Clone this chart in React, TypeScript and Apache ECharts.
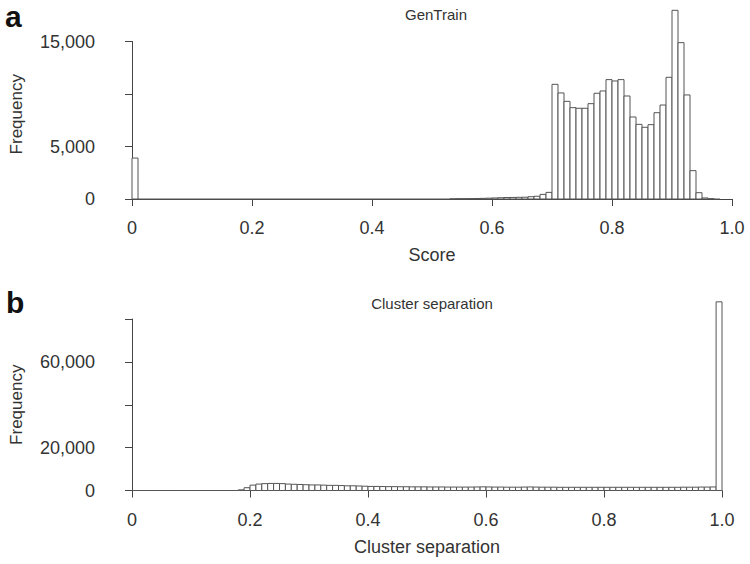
import React, { useEffect, useRef } from "react";
import * as echarts from "echarts";

// Bin width of both histograms (score units)
const binWidth = 0.01;

// Panel a: GenTrain score histogram, bins 0.00-0.01 ... 0.97-0.98
const genTrainCounts: number[] = [
  3900, 0, 0, 0, 0, 0, 0, 0, 0, 0,
  0, 0, 0, 0, 0, 0, 0, 0, 0, 0,
  0, 0, 0, 0, 0, 0, 0, 0, 0, 0,
  0, 0, 0, 0, 0, 0, 0, 0, 0, 0,
  0, 0, 0, 0, 0, 0, 0, 0, 0, 0,
  0, 0, 0, 20, 30, 30, 40, 50, 60, 80,
  100, 120, 140, 150, 160, 170, 220, 260, 440, 630,
  10920, 10100, 9300, 8700, 8640, 8640, 9080, 10070, 10290, 11370,
  11240, 11370, 9810, 7810, 7110, 6830, 7080, 8220, 8950, 11590,
  17970, 14890, 9910, 2700, 600, 100, 30, 0,
];

// Panel b: cluster separation histogram, bins 0.00-0.01 ... 0.99-1.00
const clusterSepCounts: number[] = [
  0, 0, 0, 0, 0, 0, 0, 0, 0, 0,
  0, 0, 0, 0, 0, 0, 0, 0, 300, 1300,
  2500, 3000, 3200, 3300, 3300, 3200, 3000, 2900, 2800, 2700,
  2600, 2600, 2500, 2400, 2400, 2300, 2200, 2200, 2100, 2000,
  1900, 1900, 1850, 1800, 1800, 1750, 1750, 1700, 1700, 1700,
  1650, 1650, 1650, 1600, 1600, 1600, 1600, 1600, 1650, 1700,
  1650, 1600, 1600, 1550, 1550, 1550, 1600, 1650, 1600, 1550,
  1550, 1550, 1500, 1500, 1500, 1500, 1500, 1500, 1500, 1500,
  1500, 1500, 1500, 1500, 1500, 1500, 1500, 1500, 1500, 1500,
  1500, 1500, 1500, 1550, 1550, 1550, 1600, 1600, 1650, 88000,
];

// Axis ticks / labels
const xTickInterval = 0.2;
const topYMax = 15000;
const topYInterval = 5000;
const topYLabeled = [0, 5000, 15000];
const bottomYMax = 80000;
const bottomYInterval = 20000;
const bottomYLabeled = [0, 20000, 60000];

const FONT = "'Liberation Sans', Arial, Helvetica, sans-serif";
const TEXT = "#333";
const AXIS = "#444";
const BAR_STROKE = "#555";

const toBins = (counts: number[]) =>
  counts.map((c, i) => [i * binWidth, (i + 1) * binWidth, c]);

const renderHist = (params: any, api: any) => {
  const x0 = api.value(0);
  const x1 = api.value(1);
  const v = api.value(2);
  const pTop = api.coord([x0, v]);
  const pBase = api.coord([x1, 0]);
  if (v === 0) {
    return {
      type: "line",
      shape: { x1: pTop[0], y1: pBase[1], x2: pBase[0], y2: pBase[1] },
      style: { stroke: BAR_STROKE, lineWidth: 1 },
    };
  }
  return {
    type: "rect",
    shape: {
      x: pTop[0],
      y: pTop[1],
      width: pBase[0] - pTop[0],
      height: pBase[1] - pTop[1],
    },
    style: { fill: "#fff", stroke: BAR_STROKE, lineWidth: 1 },
  };
};

const xLabelFmt = (v: number) => (v === 0 ? "0" : v.toFixed(1));

const makeX = (grid: number, name: string) => ({
  gridIndex: grid,
  type: "value",
  min: 0,
  max: 1,
  interval: xTickInterval,
  offset: 9,
  axisLine: { show: true, lineStyle: { color: AXIS, width: 1 } },
  axisTick: { show: true, length: 7, lineStyle: { color: AXIS, width: 1 } },
  axisLabel: { margin: 11, fontSize: 18, color: TEXT, formatter: xLabelFmt },
  splitLine: { show: false },
  name,
  nameLocation: "middle",
  nameGap: 38,
  nameTextStyle: { fontSize: 18, color: TEXT },
});

const makeY = (
  grid: number,
  max: number,
  interval: number,
  labeled: number[],
  namePadding: number[]
) => ({
  gridIndex: grid,
  type: "value",
  min: 0,
  max,
  interval,
  offset: 24,
  axisLine: { show: true, lineStyle: { color: AXIS, width: 1 } },
  axisTick: { show: true, length: 7, lineStyle: { color: AXIS, width: 1 } },
  axisLabel: {
    margin: 13,
    fontSize: 18,
    color: TEXT,
    formatter: (v: number) => (labeled.includes(v) ? v.toLocaleString("en-US") : ""),
  },
  splitLine: { show: false },
  name: "Frequency",
  nameLocation: "middle",
  nameGap: 83,
  nameTextStyle: { fontSize: 17, color: TEXT, padding: namePadding },
});

export default function App() {
  const ref = useRef<HTMLDivElement>(null);
  useEffect(() => {
    if (!ref.current) return;
    const chart = echarts.init(ref.current, undefined, { renderer: "svg" });
    chart.setOption({
      animation: false,
      backgroundColor: "#fff",
      textStyle: { fontFamily: FONT },
      title: [
        {
          text: "GenTrain",
          left: 431,
          top: 2,
          textAlign: "center",
          textStyle: { fontSize: 15, fontWeight: "normal", color: TEXT, fontFamily: FONT },
        },
        {
          text: "Cluster separation",
          left: 427,
          top: 291,
          textAlign: "center",
          textStyle: { fontSize: 15, fontWeight: "normal", color: TEXT, fontFamily: FONT },
        },
      ],
      graphic: [
        {
          type: "text",
          x: 5,
          y: 16,
          style: { text: "a", font: `bold 30px ${FONT}`, fill: "#111", verticalAlign: "middle" },
        },
        {
          type: "text",
          x: 6,
          y: 302,
          style: { text: "b", font: `bold 30px ${FONT}`, fill: "#111", verticalAlign: "middle" },
        },
      ],
      grid: [
        { left: 131, right: 18, top: 41.5, bottom: 365 },
        { left: 132, right: 28, top: 319, bottom: 73.5 },
      ],
      xAxis: [makeX(0, "Score"), makeX(1, "Cluster separation")],
      yAxis: [
        makeY(0, topYMax, topYInterval, topYLabeled, [0, 0, 0, 12]),
        makeY(1, bottomYMax, bottomYInterval, bottomYLabeled, [0, 0, 0, 0]),
      ],
      series: [
        {
          type: "custom",
          name: "GenTrain",
          xAxisIndex: 0,
          yAxisIndex: 0,
          clip: false,
          renderItem: renderHist,
          encode: { x: [0, 1], y: 2 },
          data: toBins(genTrainCounts),
        },
        {
          type: "custom",
          name: "Cluster separation",
          xAxisIndex: 1,
          yAxisIndex: 1,
          clip: false,
          renderItem: renderHist,
          encode: { x: [0, 1], y: 2 },
          data: toBins(clusterSepCounts),
        },
      ],
    });
    return () => chart.dispose();
  }, []);
  return (
    <div
      ref={ref}
      style={{ position: "absolute", left: 0, top: 0, width: 750, height: 564 }}
    />
  );
}
